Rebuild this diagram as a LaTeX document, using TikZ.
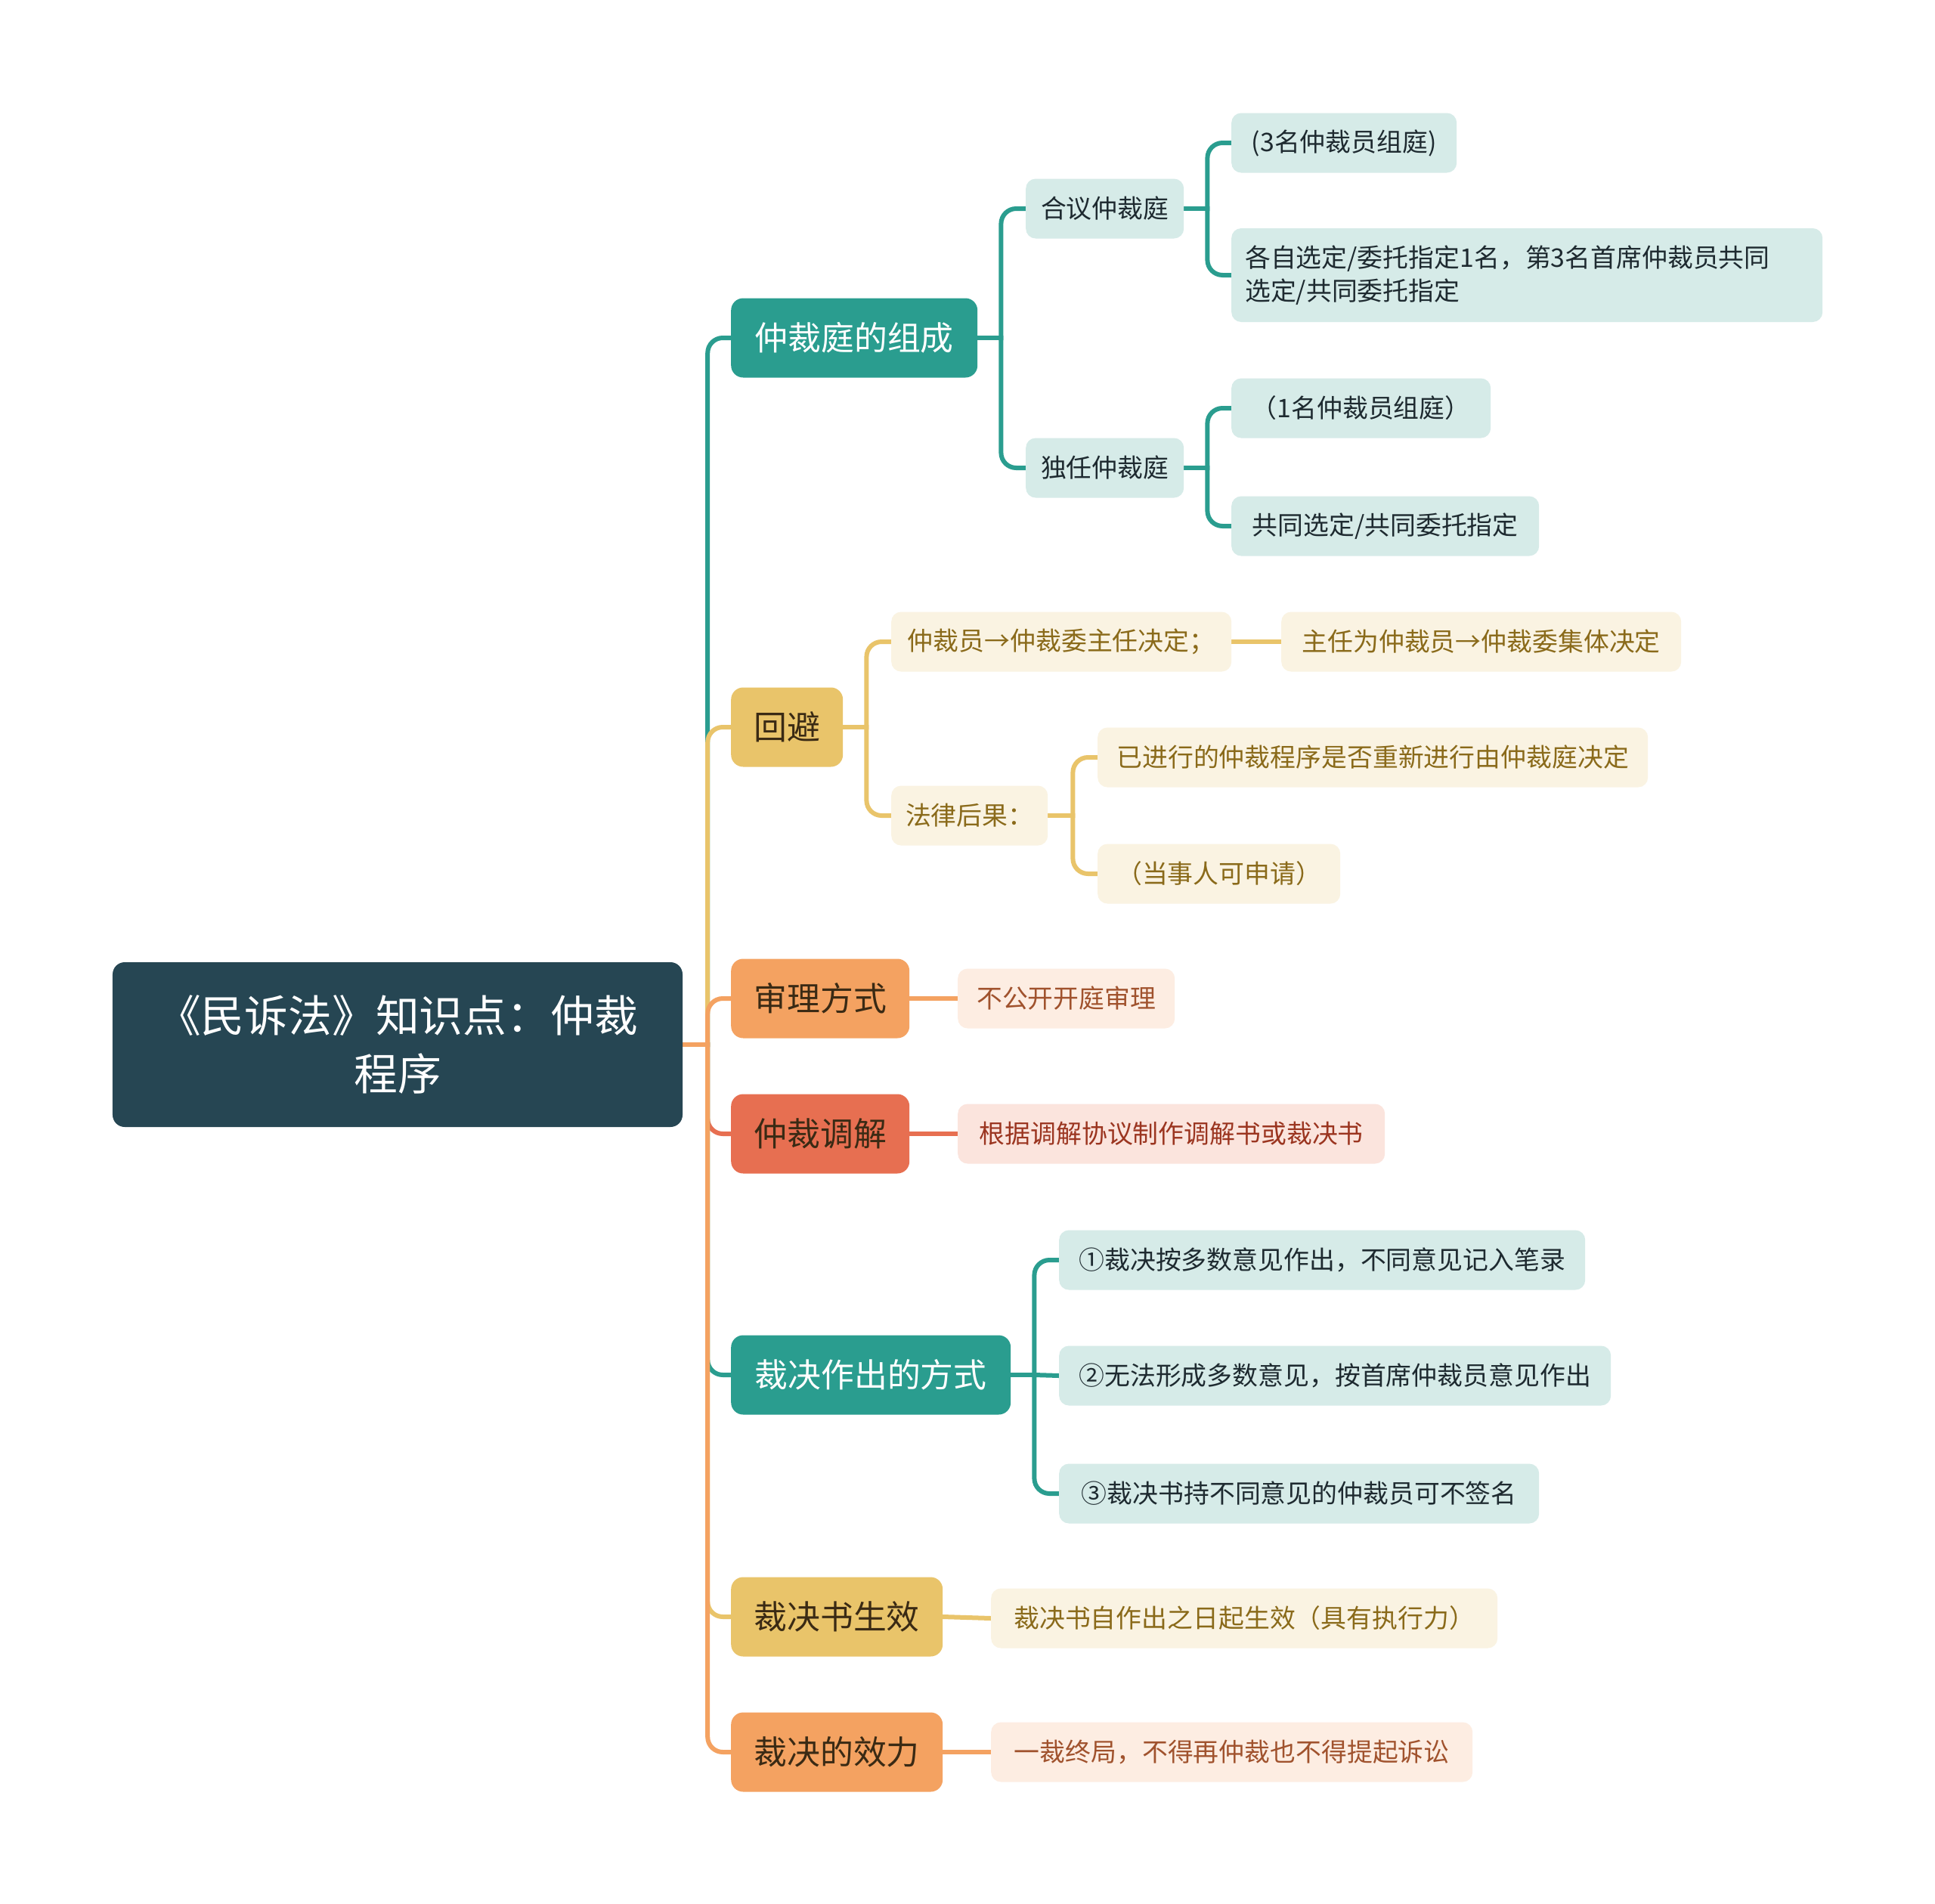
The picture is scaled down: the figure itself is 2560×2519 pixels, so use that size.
\documentclass[tikz,border=0pt]{standalone}
\usepackage{fontspec}
\setmainfont{Noto Sans CJK SC}
\usetikzlibrary{backgrounds}
\definecolor{cdark}{HTML}{264653}
\definecolor{cteal}{HTML}{2A9D8F}
\definecolor{cyellow}{HTML}{E9C46A}
\definecolor{corange}{HTML}{F4A261}
\definecolor{cred}{HTML}{E76F51}
\definecolor{tealL}{HTML}{D6EBE8}
\definecolor{yelL}{HTML}{FAF3E2}
\definecolor{orL}{HTML}{FDEDE2}
\definecolor{redL}{HTML}{FBE4DD}
\definecolor{tealT}{HTML}{1E2A30}
\definecolor{yelT}{HTML}{8A6A1A}
\definecolor{orT}{HTML}{A0522D}
\definecolor{redT}{HTML}{9B3520}
\definecolor{l1T}{HTML}{3A2A14}
\begin{document}
\begin{tikzpicture}[x=1bp,y=-1bp,
  rootbox/.style={fill=cdark, text=white, rounded corners=16bp, minimum width=754bp, minimum height=218bp, align=center, text width=700bp, font=\fontsize{58}{77}\selectfont},
  l1/.style={rounded corners=16bp, minimum height=105bp, inner xsep=20bp, font=\fontsize{44}{52}\selectfont, anchor=west, text=l1T},
  leaf/.style={rounded corners=13bp, minimum height=79bp, inner xsep=18bp, font=\fontsize{34}{44}\selectfont, anchor=west},
  tleaf/.style={leaf, fill=tealL, text=tealT},
  yleaf/.style={leaf, fill=yelL, text=yelT},
  oleaf/.style={leaf, fill=orL, text=orT},
  rleaf/.style={leaf, fill=redL, text=redT},
  conn/.style={line width=6bp, line cap=rect},
  fork/.style={line width=6bp, line cap=rect, rounded corners=20bp}]
\useasboundingbox (0,0) rectangle (2560,2519);

% root
\node[rootbox] (root) at (526,1382) {《民诉法》知识点：仲裁\\程序};

% level 1
\node[l1, fill=cteal, text=white, minimum width=326bp] (a) at (967,447) {仲裁庭的组成};
\node[l1, fill=cyellow, minimum width=148bp] (b) at (967,962) {回避};
\node[l1, fill=corange, minimum width=236bp] (c) at (967,1321) {审理方式};
\node[l1, fill=cred, minimum width=236bp] (d) at (967,1500) {仲裁调解};
\node[l1, fill=cteal, text=white, minimum width=370bp] (e) at (967,1819) {裁决作出的方式};
\node[l1, fill=cyellow, minimum width=280bp] (f) at (967,2139) {裁决书生效};
\node[l1, fill=corange, minimum width=280bp] (g) at (967,2318) {裁决的效力};

% a children
\node[tleaf, minimum width=209bp] (a1) at (1357,276) {合议仲裁庭};
\node[tleaf, minimum width=209bp] (a2) at (1357,619) {独任仲裁庭};
\node[tleaf, minimum width=298bp] (a11) at (1629,189) {(3名仲裁员组庭)};
\node[tleaf, minimum height=124bp, text width=746bp, align=left] (a12) at (1629,364) {各自选定/委托指定1名，第3名首席仲裁员共同\\选定/共同委托指定};
\node[tleaf, minimum width=343bp] (a21) at (1629,540) {（1名仲裁员组庭）};
\node[tleaf, minimum width=407bp] (a22) at (1629,696) {共同选定/共同委托指定};

% b children
\node[yleaf, minimum width=450bp] (b1) at (1179,849) {仲裁员→仲裁委主任决定；};
\node[yleaf, minimum width=529bp] (b11) at (1695,849) {主任为仲裁员→仲裁委集体决定};
\node[yleaf, minimum width=207bp] (b2) at (1179,1079) {法律后果：};
\node[yleaf, minimum width=728bp] (b21) at (1452,1002) {已进行的仲裁程序是否重新进行由仲裁庭决定};
\node[yleaf, minimum width=321bp] (b22) at (1452,1156) {（当事人可申请）};

% c, d children
\node[oleaf, minimum width=287bp] (c1) at (1267,1321) {不公开开庭审理};
\node[rleaf, minimum width=565bp] (d1) at (1267,1500) {根据调解协议制作调解书或裁决书};

% e children
\node[tleaf, minimum width=696bp] (e1) at (1401,1667) {①裁决按多数意见作出，不同意见记入笔录};
\node[tleaf, minimum width=730bp] (e2) at (1401,1820) {②无法形成多数意见，按首席仲裁员意见作出};
\node[tleaf, minimum width=635bp] (e3) at (1401,1976) {③裁决书持不同意见的仲裁员可不签名};

% f, g children
\node[yleaf, minimum width=670bp] (f1) at (1311,2141) {裁决书自作出之日起生效（具有执行力）};
\node[oleaf, minimum width=637bp] (g1) at (1311,2318) {一裁终局，不得再仲裁也不得提起诉讼};

\begin{pgfonlayer}{background}
\fill[white] (0,0) rectangle (2560,2519);

% trunk
\draw[conn, corange] (root.east) -- ++(33,0) coordinate (jr);
\draw[fork, cteal] (jr) |- (a.west);
\draw[fork, cyellow] (jr) |- (b.west);
\draw[fork, corange] (jr) |- (c.west);
\draw[fork, cred] (jr) |- (d.west);
\draw[fork, cteal] (jr) |- (e.west);
\draw[fork, cyellow] (jr) |- (f.west);
\draw[fork, corange] (jr) |- (g.west);

% a branch
\draw[conn, cteal] (a.east) -- ++(31,0) coordinate (ja);
\draw[fork, cteal] (ja) |- (a1.west);
\draw[fork, cteal] (ja) |- (a2.west);
\draw[conn, cteal] (a1.east) -- ++(31,0) coordinate (ja1);
\draw[fork, cteal] (ja1) |- (a11.west);
\draw[fork, cteal] (ja1) |- (a12.west);
\draw[conn, cteal] (a2.east) -- ++(31,0) coordinate (ja2);
\draw[fork, cteal] (ja2) |- (a21.west);
\draw[fork, cteal] (ja2) |- (a22.west);

% b branch
\draw[conn, cyellow] (b.east) -- ++(31,0) coordinate (jb);
\draw[fork, cyellow] (jb) |- (b1.west);
\draw[fork, cyellow] (jb) |- (b2.west);
\draw[conn, cyellow] (b1.east) -- (b11.west);
\draw[conn, cyellow] (b2.east) -- ++(33,0) coordinate (jb2);
\draw[fork, cyellow] (jb2) |- (b21.west);
\draw[fork, cyellow] (jb2) |- (b22.west);

% c, d
\draw[conn, corange] (c.east) -- (c1.west);
\draw[conn, cred] (d.east) -- (d1.west);

% e branch
\draw[conn, cteal] (e.east) -- ++(31,0) coordinate (je);
\draw[fork, cteal] (je) |- (e1.west);
\draw[conn, cteal] (je) -- (e2.west);
\draw[fork, cteal] (je) |- (e3.west);

% f, g
\draw[conn, cyellow] (f.east) -- (f1.west);
\draw[conn, corange] (g.east) -- (g1.west);
\end{pgfonlayer}
\end{tikzpicture}
\end{document}
